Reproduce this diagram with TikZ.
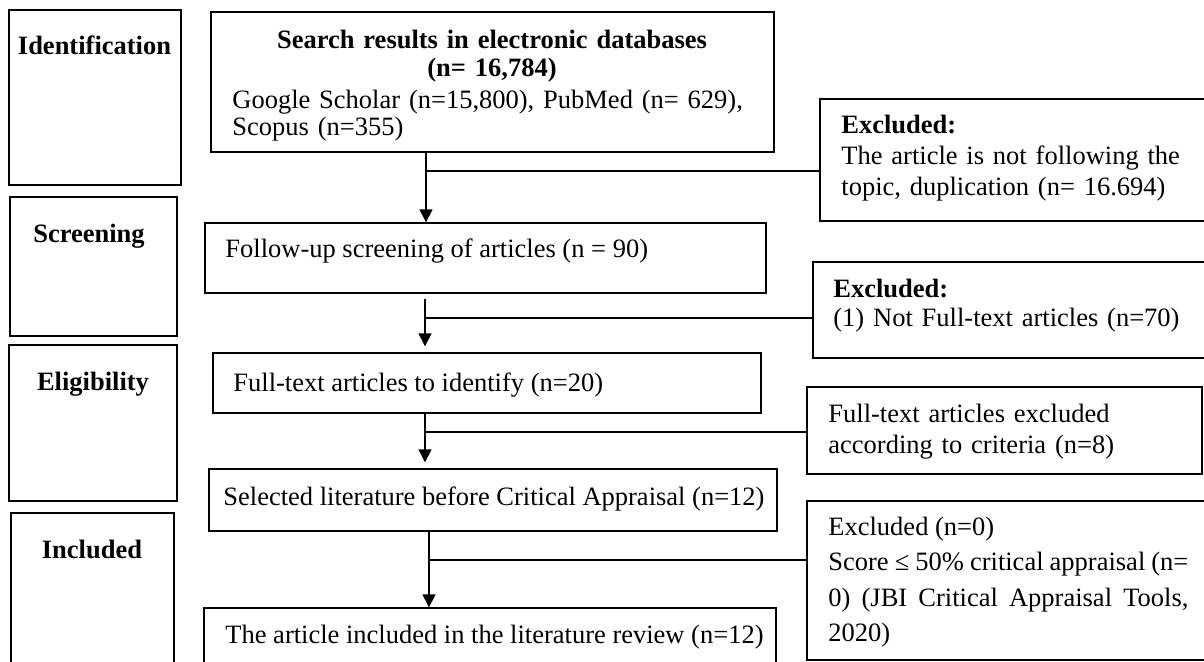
\documentclass[tikz,border=0pt]{standalone}
\usepackage{fontspec}
\setmainfont{Liberation Serif}
\usetikzlibrary{arrows.meta,fit}
\begin{document}
\begin{tikzpicture}[x=0.5pt,y=-0.5pt,
  box/.style={draw, line width=0.7pt, inner sep=0pt},
  txt/.style={inner sep=0pt, font=\fontsize{13.25}{14}\selectfont},
  stagelab/.style={inner sep=0pt, font=\fontsize{13.25}{14}\selectfont\bfseries, anchor=base},
  conn/.style={line width=0.7pt},
  arr/.style={line width=0.7pt, -{Triangle[width=6.5pt,length=6.5pt]}}]
\useasboundingbox (0,0) rectangle (1204,661);
\clip (0,0) rectangle (1204,661);
% stage boxes
\node[box, fit={(9,10) (181,185)}] (idb) {};
\node[box, fit={(10,197) (177,336)}] (scrb) {};
\node[box, fit={(9,345) (177,501)}] (elib) {};
\node[box, fit={(11,513) (174,680)}] (incb) {};
\node[stagelab] (idl) at (94.5,54) {Identification};
\node[stagelab] (scrl) at (89,242) {Screening};
\node[stagelab] (elil) at (93,390) {Eligibility};
\node[stagelab] (incl) at (92,558) {Included};
% main boxes
\node[box, fit={(211,12) (774,152)}] (srch) {};
\node[box, fit={(205,223) (766,293)}] (fup) {};
\node[box, fit={(213,353) (761,413)}] (fti) {};
\node[box, fit={(209,469) (777,531)}] (sel) {};
\node[box, fit={(204,608) (776,680)}] (art) {};
% exclusion boxes
\node[box, fit={(820,99) (1220,221)}] (ex1) {};
\node[box, fit={(813,262) (1220,358)}] (ex2) {};
\node[box, fit={(807,387) (1202,474)}] (ex3) {};
\node[box, fit={(807,501) (1220,660)}] (ex4) {};
% texts
\node[txt, anchor=north, text width=260pt, align=center, font=\fontsize{13.25}{14}\selectfont\bfseries] (srcht) at (492,28.4) {\strut Search results in electronic databases\\(n= 16,784)};
\node[txt, anchor=north west, text width=260pt, align=left, font=\fontsize{13.25}{13.5}\selectfont] (srchs) at (232,89.1) {\strut Google Scholar (n=15,800), PubMed (n= 629),\\Scopus (n=355)};
\node[txt, anchor=base west] (fupt) at (225,257) {Follow-up screening of articles (n = 90)};
\node[txt, anchor=base west] (ftit) at (233,391) {Full-text articles to identify (n=20)};
\node[txt, anchor=base west] (selt) at (223,505) {Selected literature before Critical Appraisal (n=12)};
\node[txt, anchor=base west] (artt) at (225,643) {The article included in the literature review (n=12)};
\node[txt, anchor=north west, text width=180pt, align=left, font=\fontsize{13.25}{15.5}\selectfont] (ex1t) at (841,111.3) {\strut\textbf{Excluded:}\\The article is not following the\\topic, duplication (n= 16.694)};
\node[txt, anchor=north west, text width=180pt, align=left, font=\fontsize{13.25}{14.5}\selectfont] (ex2t) at (833,276.7) {\strut\textbf{Excluded:}\\(1) Not Full-text articles (n=70)};
\node[txt, anchor=north west, text width=180pt, align=left, font=\fontsize{13.25}{15.5}\selectfont] (ex3t) at (828,400.3) {\strut Full-text articles excluded\\according to criteria (n=8)};
\node[txt, anchor=north west, text width=180pt, align=justify, font=\fontsize{13.25}{17.75}\selectfont] (ex4t) at (828,510.15) {\strut Excluded (n=0)\\Score ≤ 50\% critical appraisal (n=\linebreak 0) (JBI Critical Appraisal Tools,\linebreak 2020)};
% connectors
\coordinate (j1) at (426,171);
\coordinate (j2) at (425,318);
\coordinate (j3) at (425,432);
\coordinate (j4) at (429,560);
\draw[arr] (j1 |- srch.south) -- (j1 |- fup.north);
\draw[conn] (j1) -- (j1 -| ex1.west);
\draw[arr, shorten <=2.5pt, shorten >=3pt] (j2 |- fup.south) -- (j2 |- fti.north);
\draw[conn] (j2) -- (j2 -| ex2.west);
\draw[arr, shorten >=3pt] (j3 |- fti.south) -- (j3 |- sel.north);
\draw[conn] (j3) -- (j3 -| ex3.west);
\draw[arr] (j4 |- sel.south) -- (j4 |- art.north);
\draw[conn] (j4) -- (j4 -| ex4.west);
\end{tikzpicture}
\end{document}
